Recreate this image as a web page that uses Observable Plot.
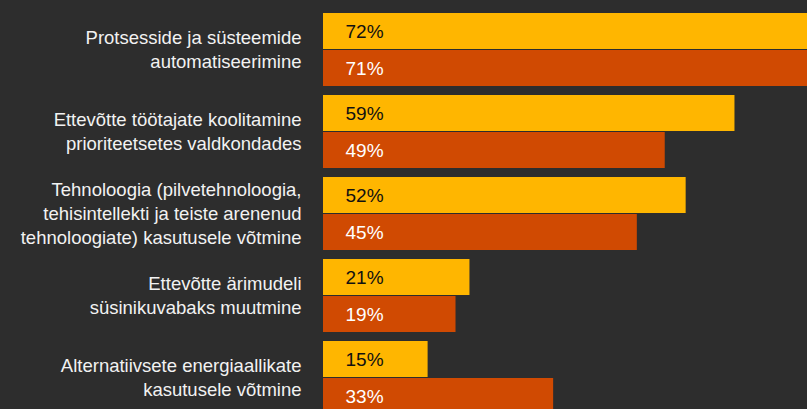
<!DOCTYPE html>
<html>
<head>
<meta charset="utf-8">
<script src="https://cdn.jsdelivr.net/npm/d3@7"></script>
<script src="https://cdn.jsdelivr.net/npm/@observablehq/plot@0.6"></script>
<style>
  html, body { margin: 0; padding: 0; background: #2d2d2d; }
  #wrap { width: 807px; height: 409px; overflow: hidden; }
</style>
</head>
<body>
<div id="wrap"></div>
<script>
const categories = [
  "Protsesside ja süsteemide\nautomatiseerimine",
  "Ettevõtte töötajate koolitamine\nprioriteetsetes valdkondades",
  "Tehnoloogia (pilvetehnoloogia,\ntehisintellekti ja teiste arenenud\ntehnoloogiate) kasutusele võtmine",
  "Ettevõtte ärimudeli\nsüsinikuvabaks muutmine",
  "Alternatiivsete energiaallikate\nkasutusele võtmine"
];
const seriesNames = ["Seeria 1", "Seeria 2"];
const series1Values = [72, 59, 52, 21, 15];
const series2Values = [71, 49, 45, 19, 33];

const data1 = categories.map((c, i) => ({cat: c, series: seriesNames[0], value: series1Values[i]}));
const data2 = categories.map((c, i) => ({cat: c, series: seriesNames[1], value: series2Values[i]}));

const font = "'Liberation Sans', Arial, Helvetica, sans-serif";

const chart = Plot.plot({
  width: 807,
  height: 416,
  marginLeft: 323,
  marginRight: 0,
  marginTop: 12,
  marginBottom: 0,
  style: {background: "#2d2d2d", fontFamily: font, overflow: "hidden"},
  x: {domain: [0, 69.4], axis: null},
  y: {domain: seriesNames, axis: null, paddingInner: 0.02, paddingOuter: 0},
  fy: {domain: categories, axis: null, paddingInner: 0.1, paddingOuter: 0},
  marks: [
    Plot.barX(data1, {fy: "cat", y: "series", x: "value", fill: "#FFB600", clip: true}),
    Plot.barX(data2, {fy: "cat", y: "series", x: "value", fill: "#D04A02", clip: true}),
    Plot.text(data1, {fy: "cat", y: "series", x: 0, text: d => d.value + "%", textAnchor: "start", dx: 22, fill: "#111", fontSize: 19}),
    Plot.text(data2, {fy: "cat", y: "series", x: 0, text: d => d.value + "%", textAnchor: "start", dx: 22, fill: "#ffffff", fontSize: 19}),
    Plot.text(categories, {fy: d => d, text: d => d, frameAnchor: "left", textAnchor: "end", dx: -22, dy: -2, fill: "#f2f2f2", fontSize: 18.5, lineHeight: 1.28})
  ]
});
document.getElementById("wrap").appendChild(chart);
</script>
</body>
</html>
